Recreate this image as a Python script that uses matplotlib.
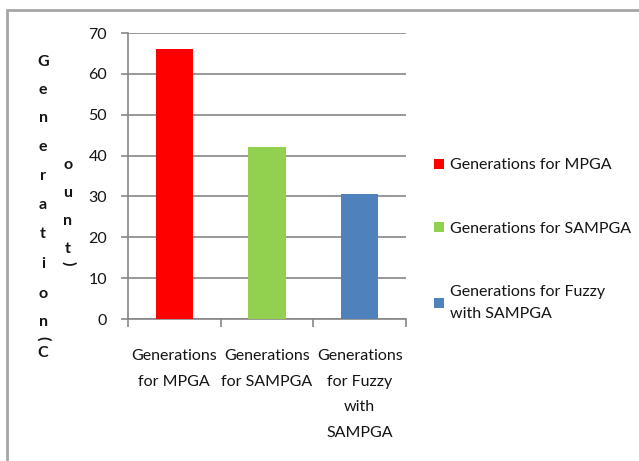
import matplotlib
matplotlib.use("Agg")
import matplotlib.pyplot as plt
from matplotlib.patches import Rectangle

plt.rcParams['font.family'] = ['Lato', 'DejaVu Sans']

# data
categories = ["Generations\nfor MPGA", "Generations\nfor SAMPGA", "Generations\nfor Fuzzy\nwith\nSAMPGA"]
series_names = ["Generations for MPGA", "Generations for SAMPGA", "Generations for Fuzzy\nwith SAMPGA"]
values = [66, 42, 30.6]
colors = ['#ff0000', '#92d050', '#4f81bd']
yticks = [0, 10, 20, 30, 40, 50, 60, 70]

W, H = 639, 461
fig = plt.figure(figsize=(W / 100, H / 100), dpi=100)
ax = fig.add_axes([128 / W, 1 - 319 / H, 278 / W, 286 / H])

gridc = '#868686'
textc = '#141414'
fs = 11.5

bars = ax.bar(range(len(values)), values, width=0.4, color=colors, zorder=3)

ax.set_xlim(-0.5, len(values) - 0.5)
ax.set_ylim(0, 70)
ax.set_yticks(yticks)
ax.yaxis.grid(True, color=gridc, linewidth=1.2, zorder=0)
for s in ['top', 'right']:
    ax.spines[s].set_visible(False)
for s in ['left', 'bottom']:
    ax.spines[s].set_color(gridc)
    ax.spines[s].set_linewidth(1.2)
ax.tick_params(axis='y', length=5, width=1.2, color=gridc, pad=10, labelsize=fs, labelcolor=textc)

# category boundary ticks, labels at centres
ax.set_xticks([i - 0.5 for i in range(len(values) + 1)])
ax.set_xticklabels([])
ax.tick_params(axis='x', length=6, width=1.2, color=gridc)
for i, lab in enumerate(categories):
    ax.text(i, -0.105, lab, transform=ax.get_xaxis_transform(), ha='center', va='top',
            fontsize=fs, color=textc, linespacing=2.05)

# stacked y-axis title
col1 = list("Generation(C")
ys1 = [62, 90, 118, 147, 176, 205, 234, 264, 294, 322, 338, 353]
for ch, y in zip(col1, ys1):
    fig.text(43 / W, 1 - y / H, ch, ha='center', va='center', fontsize=11.5,
             fontweight='bold', color=textc, rotation=-90 if ch in '()' else 0)
col2 = list("ount)")
ys2 = [165, 193, 221, 249, 263]
for ch, y in zip(col2, ys2):
    fig.text(68 / W, 1 - y / H, ch, ha='center', va='center', fontsize=11.5,
             fontweight='bold', color=textc, rotation=-90 if ch in '()' else 0)

# legend
leg = fig.legend(bars, series_names, loc='upper left', bbox_to_anchor=(420 / W, 1 - 144 / H),
                 frameon=False, fontsize=fs, handlelength=0.6, handleheight=0.6,
                 handletextpad=0.4, labelspacing=3.1, labelcolor=textc)
leg.get_texts()[2].set_linespacing(1.65)

# outer frame
fig.add_artist(Rectangle((7 / W, -0.1), 1.2, 1 - 10 / H + 0.1, transform=fig.transFigure,
                         fill=False, edgecolor='#a6a6a6', linewidth=2))

fig.savefig("out.png", dpi=100)
